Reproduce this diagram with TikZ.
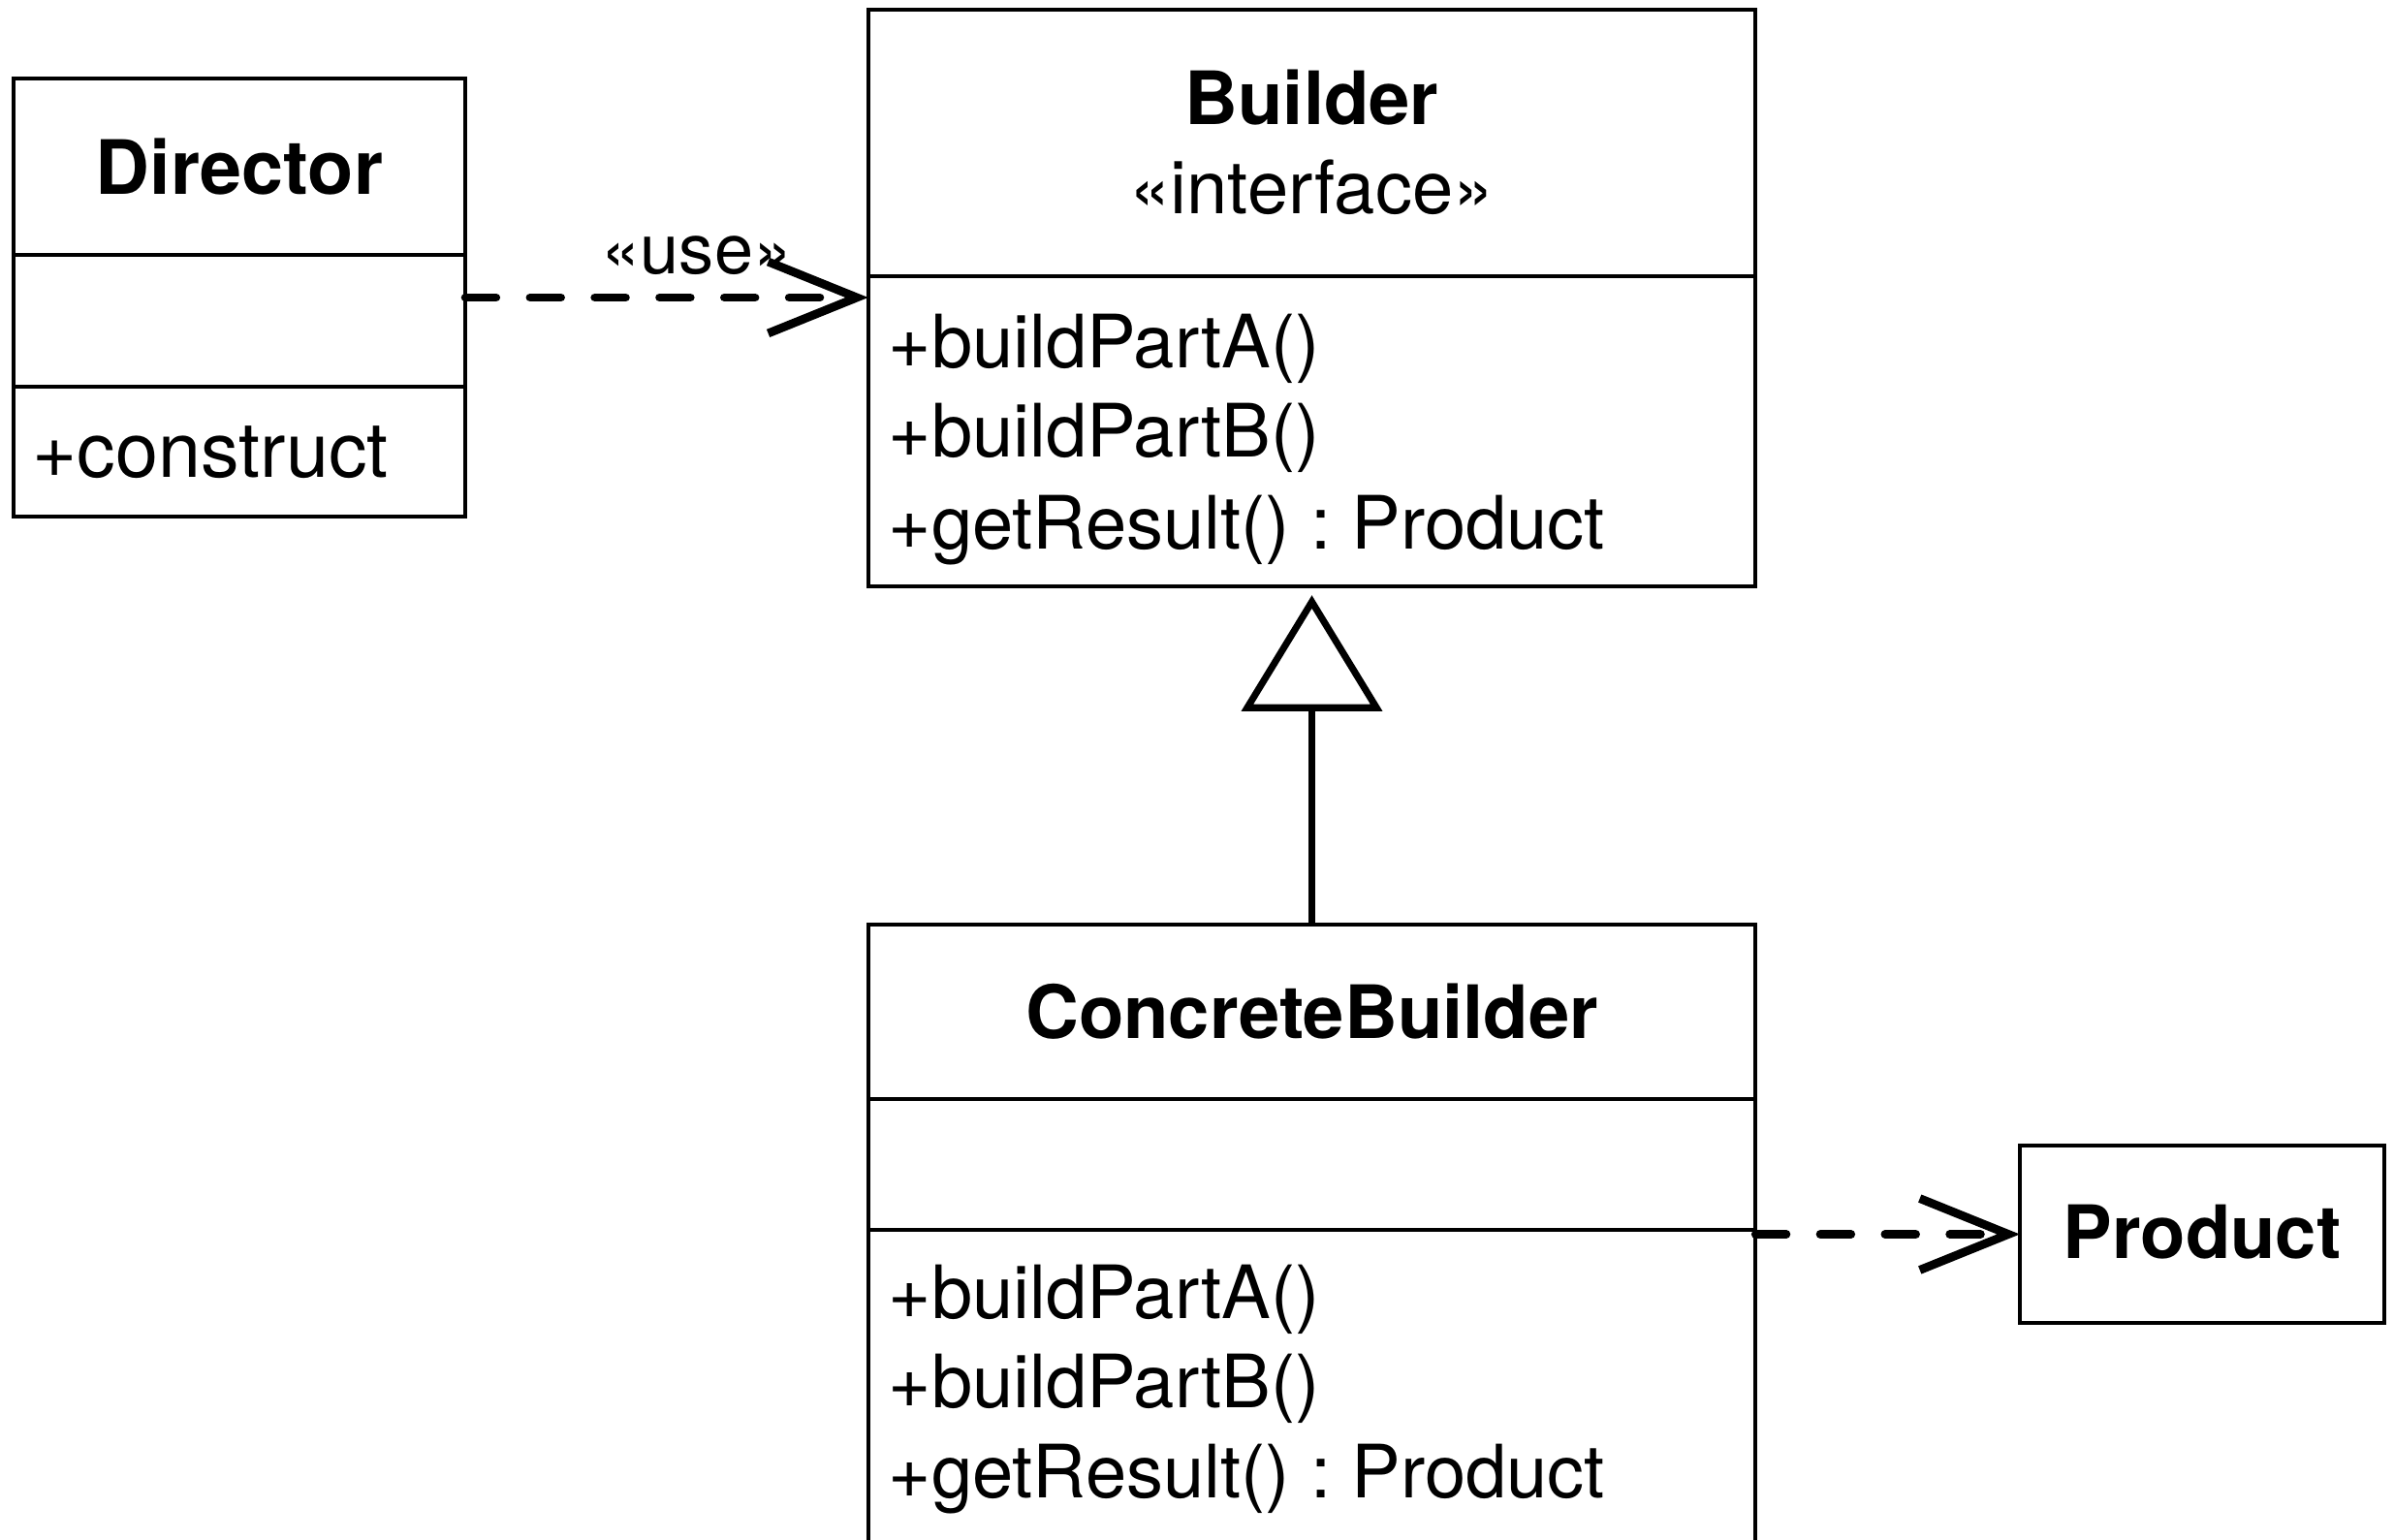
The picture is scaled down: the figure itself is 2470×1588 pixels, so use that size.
\documentclass[tikz,border=0pt]{standalone}
\usepackage{fontspec}
\setmainfont{TeX Gyre Heros}
\usetikzlibrary{arrows.meta}
\frenchspacing
\begin{document}
\begin{tikzpicture}[x=0.01cm,y=-0.01cm,
  box/.style={draw, line width=1.1pt, inner sep=0pt, outer sep=0pt, rectangle},
  lbl/.style={inner sep=0pt, anchor=base, font=\fontsize{21.6}{26}\selectfont},
  ctitle/.style={lbl, font=\fontsize{21.6}{26}\selectfont\bfseries},
  member/.style={lbl, anchor=base west},
  divider/.style={line width=1.1pt},
  dep/.style={line width=2.5pt, dash pattern=on 9pt off 10pt, line cap=round,
    -{Straight Barb[length=26pt,width=21pt]}},
  inherit/.style={line width=2pt, -{Triangle[open,length=34pt,width=41pt,fill=white]}}
]
\useasboundingbox (0,0) rectangle (2470,1588);
\clip (0,0) rectangle (2470,1588);

% Director
\node[box, minimum width=4.66cm, minimum height=4.52cm] (dir) at (247,307) {};
\draw[divider] (dir.west |- 0,263) -- (dir.east |- 0,263);
\draw[divider] (dir.west |- 0,399) -- (dir.east |- 0,399);
\node[ctitle, font=\fontsize{22}{26}\selectfont\bfseries] (dirt) at (247,200) {Director};
\node[member, font=\fontsize{22.5}{27}\selectfont] (dirm) at (33,492) {+construct};

% Builder
\node[box, minimum width=9.15cm, minimum height=5.95cm] (bld) at (1353.5,307.5) {};
\draw[divider] (bld.west |- 0,285) -- (bld.east |- 0,285);
\node[ctitle] (bldt) at (1353.5,129) {Builder};
\node[lbl] (blds) at (1353.5,221) {«interface»};
\node[member] (bm1) at (916,379) {+buildPartA()};
\node[member] (bm2) at (916,471) {+buildPartB()};
\node[member] (bm3) at (916,566) {+getResult() : Product};

% ConcreteBuilder
\node[box, minimum width=9.15cm, minimum height=6.96cm] (cb) at (1353.5,1302) {};
\draw[divider] (cb.west |- 0,1134) -- (cb.east |- 0,1134);
\draw[divider] (cb.west |- 0,1269) -- (cb.east |- 0,1269);
\node[ctitle] (cbt) at (1353.5,1071) {ConcreteBuilder};
\node[member] (cm1) at (916,1360) {+buildPartA()};
\node[member] (cm2) at (916,1452) {+buildPartB()};
\node[member] (cm3) at (916,1545) {+getResult() : Product};

% Product
\node[box, minimum width=3.76cm, minimum height=1.83cm] (prod) at (2272,1273.5) {};
\node[ctitle] (prodt) at (2272,1298) {Product};

% connectors
\draw[dep] (dir.east) -- (dir.east -| bld.west);
\node[lbl, font=\fontsize{20.5}{24}\selectfont] (use) at (719,282) {«use»};
\draw[dep] (cb.east |- prod.west) -- (prod.west);
\coordinate (tip) at ([yshift=-0.09cm]bld.south);
\draw[inherit] (cb.north) -- (tip);
\end{tikzpicture}
\end{document}
